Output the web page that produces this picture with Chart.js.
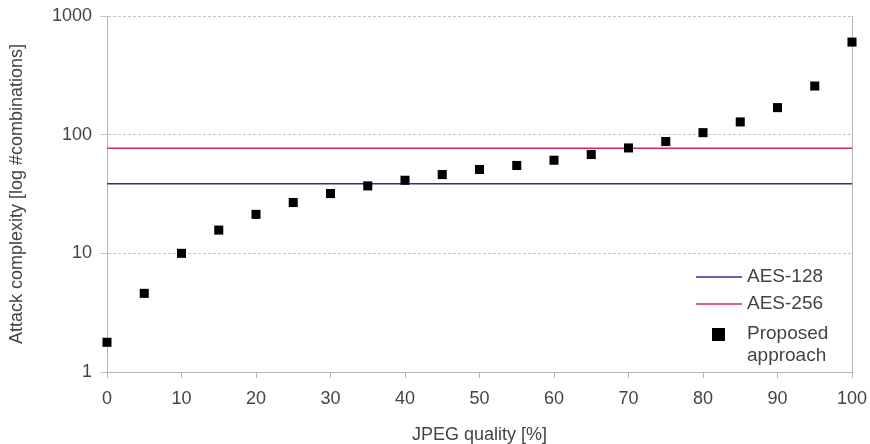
<!DOCTYPE html>
<html>
<head>
<meta charset="utf-8">
<script src="https://cdn.jsdelivr.net/npm/chart.js@4/dist/chart.umd.min.js"></script>
<style>
  body { margin: 0; background: #fff; }
  #wrap { width: 870px; height: 444px; }
</style>
</head>
<body>
<div id="wrap"><canvas id="myChart"></canvas></div>
<script>
// chart data
const quality = [0, 5, 10, 15, 20, 25, 30, 35, 40, 45, 50, 55, 60, 65, 70, 75, 80, 85, 90, 95, 100];
const proposed = [1.78, 4.6, 10, 15.7, 21.3, 26.8, 31.9, 37.0, 41.3, 46.1, 50.9, 55.0, 60.9, 68.0, 77.3, 87.5, 104, 128, 169, 257, 603];
const aes128 = 38.5;
const aes256 = 77.0;
const yTicks = [1, 10, 100, 1000];
const xRange = [0, 100];

const textColor = '#444';
const axisGray = '#b4b4b4';
const font = { family: 'Liberation Sans, Arial, sans-serif', size: 18 };

// right border under the points, legend on top
const extras = {
  id: 'extras',
  beforeDatasetsDraw(chart) {
    const c = chart.ctx;
    const a = chart.chartArea;
    c.save();
    c.strokeStyle = axisGray;
    c.lineWidth = 1;
    c.beginPath();
    c.moveTo(Math.round(a.right) + 0.5, a.top);
    c.lineTo(Math.round(a.right) + 0.5, a.bottom);
    c.stroke();
    c.restore();
  },
  afterDraw(chart) {
    const c = chart.ctx;
    const a = chart.chartArea;
    c.save();
    const lx = a.right - 156, tx = a.right - 105;
    c.font = '19px Liberation Sans, Arial, sans-serif';
    c.fillStyle = textColor;
    c.textBaseline = 'middle';
    c.textAlign = 'left';
    c.lineWidth = 1.5;
    c.strokeStyle = '#2d2d9c';
    c.beginPath(); c.moveTo(lx, 277); c.lineTo(lx + 46, 277); c.stroke();
    c.fillText('AES-128', tx, 277);
    c.strokeStyle = '#cf2b67';
    c.beginPath(); c.moveTo(lx, 304); c.lineTo(lx + 46, 304); c.stroke();
    c.fillText('AES-256', tx, 304);
    c.fillStyle = '#000';
    c.fillRect(lx + 16, 328, 13, 13);
    c.fillStyle = textColor;
    c.fillText('Proposed', tx, 334);
    c.fillText('approach', tx, 356);
    c.restore();
  }
};

const ctx = document.getElementById('myChart').getContext('2d');
const myChart = new Chart(ctx, {
  type: 'scatter',
  data: {
    datasets: [{
      label: 'Proposed approach',
      data: quality.map((q, i) => ({ x: q, y: proposed[i] })),
      backgroundColor: '#000',
      borderWidth: 0,
      pointStyle: 'rect',
      pointRadius: 6.4,
      clip: false,
      order: 0
    }, {
      label: 'AES-128',
      type: 'line',
      data: xRange.map(q => ({ x: q, y: aes128 })),
      borderColor: '#2d2d9c',
      borderWidth: 1.5,
      pointRadius: 0,
      order: 1
    }, {
      label: 'AES-256',
      type: 'line',
      data: xRange.map(q => ({ x: q, y: aes256 })),
      borderColor: '#cf2b67',
      borderWidth: 1.5,
      pointRadius: 0,
      order: 1
    }]
  },
  options: {
    responsive: true,
    maintainAspectRatio: false,
    animation: false,
    layout: { padding: { top: 16, right: 18, left: 0, bottom: 0 } },
    plugins: { legend: { display: false }, tooltip: { enabled: false } },
    scales: {
      x: {
        type: 'linear',
        min: 0,
        max: 100,
        afterFit: (s) => { s.height = 72; s.paddingLeft = 0; s.paddingRight = 0; },
        ticks: { stepSize: 10, color: textColor, font: font, padding: 10, maxRotation: 0 },
        grid: { drawOnChartArea: false, tickLength: 6, color: axisGray },
        border: { color: axisGray },
        title: { display: true, text: 'JPEG quality [%]', color: textColor, font: { ...font, lineHeight: 1 }, padding: { top: 0, bottom: 0 } }
      },
      y: {
        type: 'logarithmic',
        min: 1,
        max: 1000,
        afterFit: (s) => { s.width = 107; s.paddingTop = 0; s.paddingBottom = 0; },
        afterBuildTicks: (s) => { s.ticks = yTicks.map(v => ({ value: v })); },
        ticks: { color: textColor, font: font, padding: 8, callback: (v) => String(v) },
        grid: { color: '#c4c4c4', tickLength: 7 },
        border: { color: axisGray, dash: [3, 2] },
        title: { display: true, text: 'Attack complexity [log #combinations]', color: textColor, font: { ...font, lineHeight: 1 }, padding: { top: 8, bottom: 0 } }
      }
    }
  },
  plugins: [extras]
});
</script>
</body>
</html>
